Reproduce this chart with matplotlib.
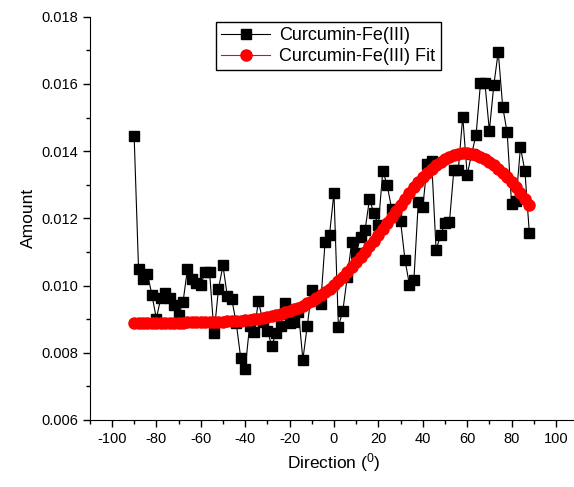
import matplotlib
matplotlib.use("Agg")
import matplotlib.pyplot as plt
from matplotlib.ticker import MultipleLocator, FormatStrFormatter

plt.rcParams['font.family'] = ['Liberation Sans', 'DejaVu Sans']
plt.rcParams['mathtext.fontset'] = 'custom'
plt.rcParams['mathtext.rm'] = 'Liberation Sans'
plt.rcParams['axes.unicode_minus'] = False

# directions (degrees) shared by both series
direction = [-90, -88, -86, -84, -82, -80, -78, -76, -74, -72,
             -70, -68, -66, -64, -62, -60, -58, -56, -54, -52,
             -50, -48, -46, -44, -42, -40, -38, -36, -34, -32,
             -30, -28, -26, -24, -22, -20, -18, -16, -14, -12,
             -10, -8, -6, -4, -2, 0, 2, 4, 6, 8,
             10, 12, 14, 16, 18, 20, 22, 24, 26, 28,
             30, 32, 34, 36, 38, 40, 42, 44, 46, 48,
             50, 52, 54, 56, 58, 60, 62, 64, 66, 68,
             70, 72, 74, 76, 78, 80, 82, 84, 86, 88]

amount = [0.01446, 0.01048, 0.01019, 0.01035, 0.00973, 0.00902, 0.00962, 0.00977, 0.00964, 0.00941,
          0.00912, 0.00950, 0.01048, 0.01019, 0.01009, 0.01002, 0.01039, 0.01039, 0.00858, 0.00990,
          0.01060, 0.00968, 0.00959, 0.00888, 0.00785, 0.00751, 0.00880, 0.00863, 0.00954, 0.00893,
          0.00866, 0.00821, 0.00860, 0.00880, 0.00947, 0.00889, 0.00893, 0.00922, 0.00780, 0.00881,
          0.00986, 0.00960, 0.00944, 0.01130, 0.01151, 0.01276, 0.00878, 0.00925, 0.01026, 0.01130,
          0.01096, 0.01144, 0.01165, 0.01257, 0.01215, 0.01180, 0.01342, 0.01298, 0.01228, 0.01205,
          0.01192, 0.01076, 0.01002, 0.01017, 0.01250, 0.01233, 0.01361, 0.01370, 0.01106, 0.01150,
          0.01187, 0.01188, 0.01344, 0.01344, 0.01503, 0.01329, 0.01392, 0.01448, 0.01602, 0.01602,
          0.01461, 0.01597, 0.01696, 0.01532, 0.01456, 0.01243, 0.01253, 0.01412, 0.01341, 0.01157]

fit = [0.00890, 0.00890, 0.00890, 0.00890, 0.00890, 0.00890, 0.00890, 0.00890, 0.00890, 0.00890,
       0.00890, 0.00890, 0.00891, 0.00891, 0.00891, 0.00891, 0.00892, 0.00892, 0.00892, 0.00892,
       0.00893, 0.00894, 0.00894, 0.00895, 0.00896, 0.00897, 0.00899, 0.00900, 0.00902, 0.00904,
       0.00906, 0.00909, 0.00912, 0.00916, 0.00920, 0.00924, 0.00929, 0.00934, 0.00940, 0.00947,
       0.00954, 0.00962, 0.00971, 0.00981, 0.00991, 0.01002, 0.01014, 0.01027, 0.01040, 0.01054,
       0.01069, 0.01084, 0.01100, 0.01117, 0.01134, 0.01152, 0.01169, 0.01187, 0.01205, 0.01223,
       0.01241, 0.01258, 0.01275, 0.01292, 0.01307, 0.01322, 0.01336, 0.01348, 0.01359, 0.01369,
       0.01378, 0.01384, 0.01389, 0.01393, 0.01395, 0.01395, 0.01393, 0.01389, 0.01384, 0.01378,
       0.01369, 0.01359, 0.01348, 0.01336, 0.01322, 0.01307, 0.01292, 0.01275, 0.01258, 0.01241]

fig = plt.figure(figsize=(5.74, 4.87), dpi=100)
ax = fig.add_axes([0.1563, 0.1376, 0.851, 0.8279])

ax.plot(direction, amount, color='black', lw=0.8, marker='s', ms=6.8,
        label='Curcumin-Fe(III)', zorder=2)
# thick band under the dense fit markers so it reads as one continuous ribbon
ax.plot(direction, fit, color='red', lw=6.5, solid_capstyle='round', zorder=3)
ax.plot(direction, fit, color='red', lw=0.8, marker='o', ms=8, mec='red',
        label='Curcumin-Fe(III) Fit', zorder=3)

ax.set_xlim(-110, 110)
ax.set_ylim(0.006, 0.018)
ax.xaxis.set_major_locator(MultipleLocator(20))
ax.xaxis.set_minor_locator(MultipleLocator(10))
ax.yaxis.set_major_locator(MultipleLocator(0.002))
ax.yaxis.set_minor_locator(MultipleLocator(0.001))
ax.yaxis.set_major_formatter(FormatStrFormatter('%.3f'))
ax.spines['top'].set_visible(False)
ax.spines['right'].set_visible(False)
ax.tick_params(which='major', direction='out', length=5, width=1, labelsize=10.5)
ax.tick_params(which='minor', direction='out', length=3, width=1)
ax.set_xlabel(r'Direction ($\mathregular{^0}$)', fontsize=12.5)
ax.set_ylabel('Amount', fontsize=12.5)

leg = ax.legend(loc='upper left', bbox_to_anchor=(216 / 574, 1 - 22 / 487),
                bbox_transform=fig.transFigure, fontsize=13, fancybox=False,
                edgecolor='black', framealpha=1, borderpad=0.3, borderaxespad=0,
                labelspacing=0.2, handlelength=2.7, handletextpad=0.5)
leg.get_frame().set_linewidth(1)

fig.savefig('out.png', dpi=100)
